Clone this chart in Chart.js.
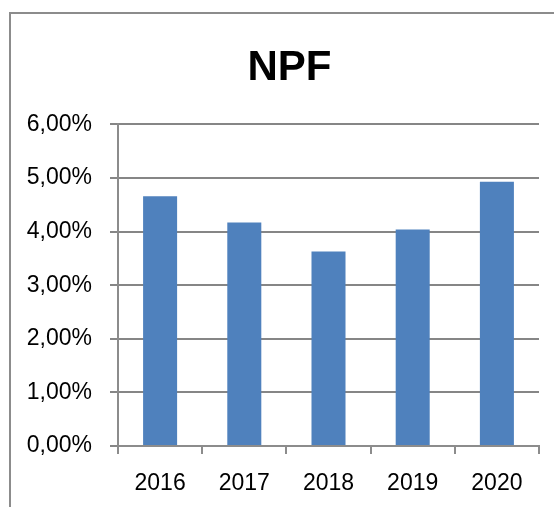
<!DOCTYPE html>
<html>
<head>
<meta charset="utf-8">
<script src="https://cdn.jsdelivr.net/npm/chart.js@4"></script>
<style>
  html, body { margin: 0; padding: 0; background: #fff; overflow: hidden; }
  #wrap { position: relative; width: 554px; height: 507px; }
  #frame { position: absolute; left: 9px; top: 12px; width: 600px; height: 600px;
           border-left: 2px solid #8c8c8c; border-top: 2px solid #8c8c8c; pointer-events: none; }
  canvas { position: absolute; left: 0; top: 0; }
</style>
</head>
<body>
<div id="wrap">
  <canvas id="npfChart" width="554" height="507"></canvas>
  <div id="frame"></div>
</div>
<script>
// NPF ratio per year, in percent
const years = ['2016', '2017', '2018', '2019', '2020'];
const npfValues = [4.66, 4.17, 3.63, 4.04, 4.93];
const yTicks = [0, 1, 2, 3, 4, 5, 6];

const ctx = document.getElementById('npfChart').getContext('2d');

// y labels hang out left of the padded area, so widen the label clip box
const unclipYLabels = {
    id: 'unclipYLabels',
    afterLayout(chart) {
        chart.scales.y.left = 0;
    }
};

new Chart(ctx, {
    type: 'bar',
    data: {
        labels: years,
        datasets: [{
            label: 'NPF',
            data: npfValues,
            backgroundColor: '#4F81BD',
            borderWidth: 0,
            categoryPercentage: 1,
            barPercentage: 0.404
        }]
    },
    options: {
        responsive: false,
        animation: false,
        layout: {
            padding: { left: 40, right: 15, top: 0, bottom: 0 }
        },
        plugins: {
            legend: { display: false },
            tooltip: { enabled: false },
            title: {
                display: true,
                text: 'NPF',
                color: '#000',
                font: { family: 'Liberation Sans', size: 42, weight: 'bold' },
                padding: { top: 43, bottom: 31 }
            }
        },
        scales: {
            x: {
                // keep the axis band the same height as in the original
                afterFit: axis => { axis.height = 61; },
                grid: {
                    drawOnChartArea: false,
                    drawTicks: true,
                    tickLength: 8,
                    color: '#8c8c8c',
                    lineWidth: 2
                },
                border: { color: '#8c8c8c', width: 2 },
                ticks: {
                    color: '#000',
                    padding: 16,
                    font: { family: 'Liberation Sans', size: 23 }
                }
            },
            y: {
                min: 0,
                max: 6,
                afterBuildTicks: axis => {
                    axis.ticks = yTicks.map(v => ({ value: v }));
                },
                afterFit: axis => { axis.width = 78; },
                grid: {
                    color: '#868686',
                    lineWidth: 2,
                    tickLength: 8
                },
                border: { color: '#8c8c8c', width: 2 },
                ticks: {
                    color: '#000',
                    padding: 18,
                    font: { family: 'Liberation Sans', size: 23 },
                    callback: value => value.toFixed(2).replace('.', ',') + '%'
                }
            }
        }
    },
    plugins: [unclipYLabels]
});
</script>
</body>
</html>
